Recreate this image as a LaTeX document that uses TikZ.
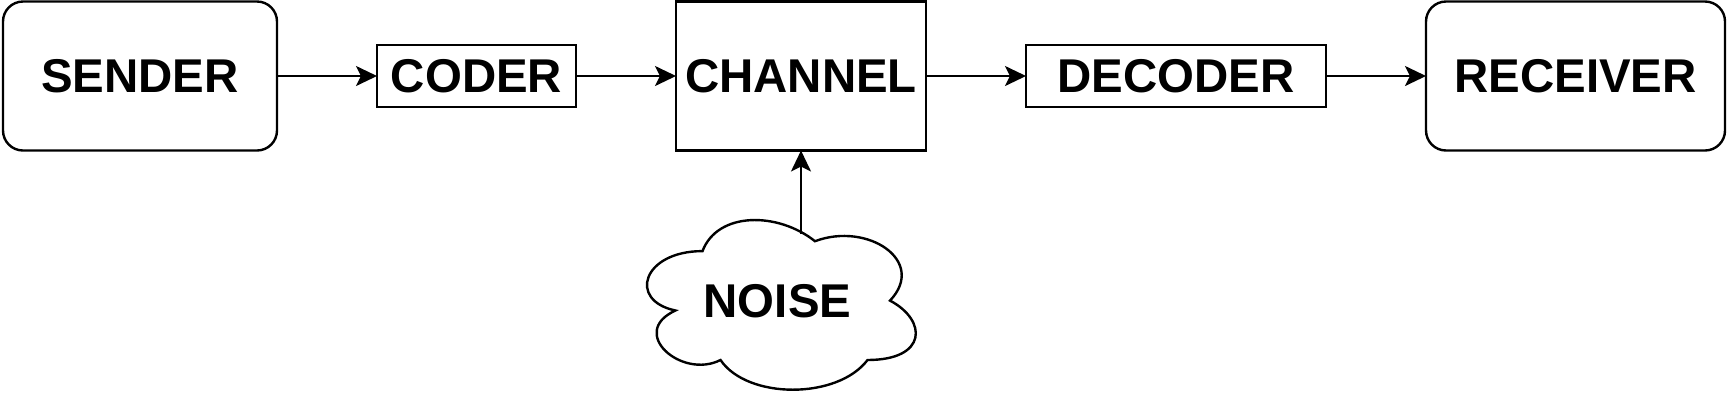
\documentclass[tikz,border=0pt]{standalone}
\usepackage{fontspec}
\setmainfont{Liberation Sans}
\usepackage{tikz}
\usetikzlibrary{arrows.meta,positioning}
\tikzset{
    %Define standard arrow tip
    >={Stealth[length=10.5pt,width=10pt,inset=2.5pt]},
    % Define arrow style
    pil/.style={
           ->,
           line width=1.2pt,}
}

\begin{document}
\begin{tikzpicture}[
node distance=50pt,
every node/.style={font=\fontsize{23.7}{28}\selectfont\bfseries, line width=1.2pt, inner sep=0pt, outer sep=0pt},
endbox/.style={rectangle, rounded corners=10pt, draw=black, minimum height=74.5pt},
codebox/.style={rectangle, draw=black, minimum height=31pt},
chanbox/.style={rectangle, draw=black, minimum height=74.5pt},
]
\useasboundingbox (0,0) rectangle (864pt,-201.5pt);
%Nodes
\node[endbox, minimum width=137pt](sender) at (70pt,-38pt){SENDER};
\node[codebox, minimum width=99.5pt](coder)[right=of sender]{CODER};
\node[chanbox, minimum width=125pt](channel)[right=of coder]{CHANNEL};
\node[codebox, minimum width=150pt](decoder)[right=of channel]{DECODER};
\node[endbox, minimum width=149.5pt](receiver)[right=of decoder]{RECEIVER};

%Cloud round the noise label
\node(noise) at (388.75pt,-150.4pt){NOISE};
\begin{scope}[shift={(313.75pt,-100.8pt)}, x=150pt, y=-99pt]
\draw[line width=1.2pt] (0.25,0.25)
  .. controls (0.05,0.25) and (0,0.5) .. (0.16,0.55)
  .. controls (0,0.66) and (0.18,0.9) .. (0.31,0.8)
  .. controls (0.4,1) and (0.7,1) .. (0.8,0.8)
  .. controls (1,0.8) and (1,0.6) .. (0.875,0.5)
  .. controls (1,0.3) and (0.8,0.1) .. (0.625,0.2)
  .. controls (0.5,0.05) and (0.3,0.05) .. (0.25,0.25) -- cycle;
\end{scope}
\coordinate (nz) at ([yshift=-41.6pt]channel.south);

\draw[pil] (sender) -- (coder);
\draw[pil] (coder) -- (channel);
\draw[pil] (channel) -- (decoder);
\draw[pil] (decoder) -- (receiver);
\draw[pil] (nz) -- (channel);

\end{tikzpicture}
\end{document}
